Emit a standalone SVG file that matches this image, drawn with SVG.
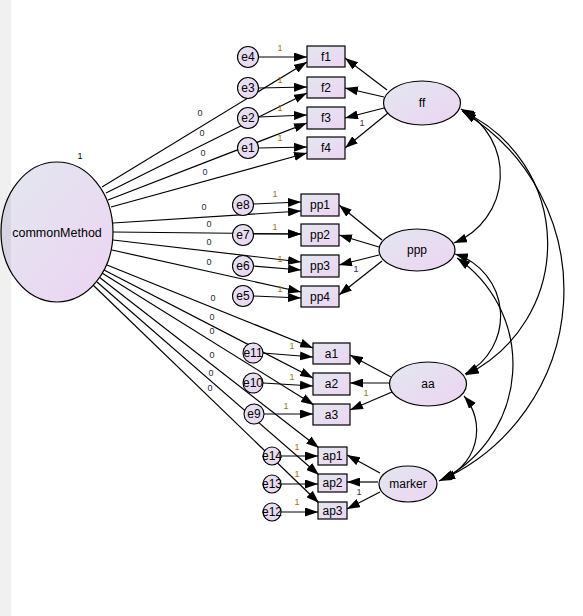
<svg xmlns="http://www.w3.org/2000/svg" width="583" height="616" viewBox="0 0 583 616">
<style>
.n{stroke:#000;stroke-width:1.2;fill:url(#g)}
.c{stroke:#000;stroke-width:1.1;fill:url(#gc)}
.t{font-family:"Liberation Sans",Arial,sans-serif;font-size:12px;fill:#000;text-anchor:middle}
.w{font-family:"Liberation Sans",Arial,sans-serif;font-size:9px;text-anchor:middle}
.z{fill:#1a2a40}
.o{fill:#a86c10}
.p{fill:#3a2080}
.l{stroke:#000;stroke-width:1.2;fill:none;marker-end:url(#ah)}
.d{stroke:#000;stroke-width:1.2;fill:none;marker-end:url(#ah2);marker-start:url(#ah2)}
</style>
<defs>
<linearGradient id="g" x1="0" y1="0" x2="1" y2="1">
<stop offset="0" stop-color="#e2e7ef"/>
<stop offset="1" stop-color="#edd4f3"/>
</linearGradient>
<linearGradient id="gc" x1="0" y1="0" x2="1" y2="1">
<stop offset="0" stop-color="#e6e2f0"/>
<stop offset="1" stop-color="#ead6f2"/>
</linearGradient>
<marker id="ah" viewBox="0 0 13 9" refX="13" refY="4.5" markerWidth="13" markerHeight="9" markerUnits="userSpaceOnUse" orient="auto"><path d="M0,0L13,4.5L0,9z" fill="#000"/></marker>
<marker id="ah2" viewBox="0 0 13 9" refX="13" refY="4.5" markerWidth="13" markerHeight="9" markerUnits="userSpaceOnUse" orient="auto-start-reverse"><path d="M0,0L13,4.5L0,9z" fill="#000"/></marker>
</defs>
<rect x="0" y="0" width="583" height="616" fill="#fff"/>

<g id="connectors">
<!-- commonMethod to indicators -->
<path class="l" d="M102,187L307,62"/>
<path class="l" d="M106,193L307,93"/>
<path class="l" d="M108,200L307,123"/>
<path class="l" d="M111,207L307,153"/>
<path class="l" d="M113,223L301,211"/>
<path class="l" d="M113,232L301,234"/>
<path class="l" d="M113,240L301,262"/>
<path class="l" d="M112,250L301,292"/>
<path class="l" d="M107,265L313,348"/>
<path class="l" d="M104,270L313,378"/>
<path class="l" d="M102,273L314,405"/>
<path class="l" d="M99,277L319,448"/>
<path class="l" d="M97,282L319,475"/>
<path class="l" d="M93,285L319,503"/>
<!-- errors to indicators -->
<path class="l" d="M258.5,57L307,57"/>
<path class="l" d="M258.5,88L307,87"/>
<path class="l" d="M258.5,117L307,115"/>
<path class="l" d="M258.5,148L307,147"/>
<path class="l" d="M253.5,204L301,202"/>
<path class="l" d="M253.5,234L301,234"/>
<path class="l" d="M253.5,266L301,270"/>
<path class="l" d="M253.5,296L301,298"/>
<path class="l" d="M263,353L313,357"/>
<path class="l" d="M263,383L313,386"/>
<path class="l" d="M264,414L313,414"/>
<path class="l" d="M281,456L318,456"/>
<path class="l" d="M281,484L318,484"/>
<path class="l" d="M281,512L318,512"/>
<!-- latent to indicators -->
<path class="l" d="M387,90L345,58"/>
<path class="l" d="M384,97L345,88"/>
<path class="l" d="M384,108L345,118"/>
<path class="l" d="M388,113L345,148"/>
<path class="l" d="M382,240L339,205"/>
<path class="l" d="M379,247L339,235"/>
<path class="l" d="M379,255L339,265"/>
<path class="l" d="M382,261L339,295"/>
<path class="l" d="M391,377L350,355"/>
<path class="l" d="M389,383L350,383"/>
<path class="l" d="M392,392L350,410"/>
<path class="l" d="M380,473L347,455"/>
<path class="l" d="M378,482L347,482"/>
<path class="l" d="M380,492L347,509"/>
<!-- covariances -->
<path class="d" d="M461,109A74,74 0 0 1 454,243"/>
<path class="d" d="M462,111A146,146 0 0 1 466,375"/>
<path class="d" d="M463,112A208,208 0 0 1 439,481"/>
<path class="d" d="M455,254A65,65 0 0 1 465,374"/>
<path class="d" d="M457,258A129,129 0 0 1 441,480"/>
<path class="d" d="M464,396A52,52 0 0 1 442,479"/>
</g>

<g id="weights">
<text class="w" x="80" y="159" fill="#000">1</text>
<text class="w z" x="200" y="116">0</text>
<text class="w z" x="202" y="136">0</text>
<text class="w z" x="203" y="156">0</text>
<text class="w z" x="205" y="175">0</text>
<text class="w z" x="204" y="210">0</text>
<text class="w z" x="209" y="227">0</text>
<text class="w z" x="209" y="245">0</text>
<text class="w z" x="209" y="265">0</text>
<text class="w z" x="213" y="301">0</text>
<text class="w z" x="212" y="320">0</text>
<text class="w z" x="212" y="334">0</text>
<text class="w z" x="212" y="358">0</text>
<text class="w z" x="211" y="376">0</text>
<text class="w z" x="210" y="391">0</text>
<text class="w o" x="280" y="51">1</text>
<text class="w o" x="280" y="83">1</text>
<text class="w o" x="280" y="111">1</text>
<text class="w o" x="280" y="141">1</text>
<text class="w o" x="275" y="197">1</text>
<text class="w o" x="275" y="230">1</text>
<text class="w o" x="280" y="262">1</text>
<text class="w o" x="280" y="292">1</text>
<text class="w o" x="292" y="349">1</text>
<text class="w o" x="292" y="380">1</text>
<text class="w o" x="286" y="409">1</text>
<text class="w o" x="297" y="450">1</text>
<text class="w o" x="297" y="477">1</text>
<text class="w o" x="297" y="505">1</text>
<text class="w p" x="362" y="126">1</text>
<text class="w p" x="356" y="272">1</text>
<text class="w o" x="366" y="396">1</text>
<text class="w p" x="359" y="495">1</text>
</g>

<g id="commonMethod"><ellipse class="n" cx="57" cy="232" rx="56" ry="70"/><text class="t" x="57" y="237" style="font-size:12.5px">commonMethod</text></g>
<g id="ff"><ellipse class="n" cx="422" cy="103" rx="38.5" ry="22"/><text class="t" x="422" y="107">ff</text></g>
<g id="ppp"><ellipse class="n" cx="417" cy="250" rx="38" ry="21"/><text class="t" x="417" y="254">ppp</text></g>
<g id="aa"><ellipse class="n" cx="428" cy="384" rx="38.5" ry="22"/><text class="t" x="428" y="388">aa</text></g>
<g id="marker"><ellipse class="n" cx="408" cy="484" rx="29" ry="18"/><text class="t" x="408" y="488">marker</text></g>

<g id="f1"><rect class="n" x="307" y="46" width="38" height="21"/><text class="t" x="326" y="61">f1</text></g>
<g id="f2"><rect class="n" x="307" y="77" width="38" height="21"/><text class="t" x="326" y="92">f2</text></g>
<g id="f3"><rect class="n" x="307" y="107" width="38" height="22"/><text class="t" x="326" y="122">f3</text></g>
<g id="f4"><rect class="n" x="307" y="137" width="38" height="22"/><text class="t" x="326" y="152">f4</text></g>
<g id="pp1"><rect class="n" x="301" y="194" width="38" height="22"/><text class="t" x="320" y="209">pp1</text></g>
<g id="pp2"><rect class="n" x="301" y="224" width="38" height="22"/><text class="t" x="320" y="239">pp2</text></g>
<g id="pp3"><rect class="n" x="301" y="255" width="38" height="22"/><text class="t" x="320" y="270">pp3</text></g>
<g id="pp4"><rect class="n" x="301" y="286" width="38" height="21"/><text class="t" x="320" y="301">pp4</text></g>
<g id="a1"><rect class="n" x="313" y="343" width="37" height="21"/><text class="t" x="331.5" y="358">a1</text></g>
<g id="a2"><rect class="n" x="313" y="373" width="37" height="22"/><text class="t" x="331.5" y="388">a2</text></g>
<g id="a3"><rect class="n" x="313" y="404" width="37" height="21"/><text class="t" x="331.5" y="419">a3</text></g>
<g id="ap1"><rect class="n" x="318" y="447" width="29" height="18"/><text class="t" x="332.5" y="460">ap1</text></g>
<g id="ap2"><rect class="n" x="318" y="474" width="29" height="18"/><text class="t" x="332.5" y="487">ap2</text></g>
<g id="ap3"><rect class="n" x="318" y="502" width="29" height="17"/><text class="t" x="332.5" y="515">ap3</text></g>

<g id="e4"><circle class="c" cx="248" cy="57" r="10.5"/><text class="t" x="248" y="61">e4</text></g>
<g id="e3"><circle class="c" cx="248" cy="88" r="10.5"/><text class="t" x="248" y="92">e3</text></g>
<g id="e2"><circle class="c" cx="248" cy="118" r="10.5"/><text class="t" x="248" y="122">e2</text></g>
<g id="e1"><circle class="c" cx="248" cy="148" r="10.5"/><text class="t" x="248" y="152">e1</text></g>
<g id="e8"><circle class="c" cx="243" cy="205" r="10.5"/><text class="t" x="243" y="209">e8</text></g>
<g id="e7"><circle class="c" cx="243" cy="235" r="10.5"/><text class="t" x="243" y="239">e7</text></g>
<g id="e6"><circle class="c" cx="243" cy="266" r="10.5"/><text class="t" x="243" y="270">e6</text></g>
<g id="e5"><circle class="c" cx="243" cy="296" r="10.5"/><text class="t" x="243" y="300">e5</text></g>
<g id="e11"><circle class="c" cx="253" cy="353" r="10"/><text class="t" x="253" y="357">e11</text></g>
<g id="e10"><circle class="c" cx="253" cy="383" r="10"/><text class="t" x="253" y="387">e10</text></g>
<g id="e9"><circle class="c" cx="254" cy="414" r="10"/><text class="t" x="254" y="418">e9</text></g>
<g id="e14"><circle class="c" cx="272" cy="456" r="9"/><text class="t" x="272" y="460">e14</text></g>
<g id="e13"><circle class="c" cx="272" cy="484" r="9"/><text class="t" x="272" y="488">e13</text></g>
<g id="e12"><circle class="c" cx="272" cy="512" r="9"/><text class="t" x="272" y="516">e12</text></g>

<rect x="0" y="0" width="11" height="616" fill="#000" fill-opacity="0.06"/>
</svg>
